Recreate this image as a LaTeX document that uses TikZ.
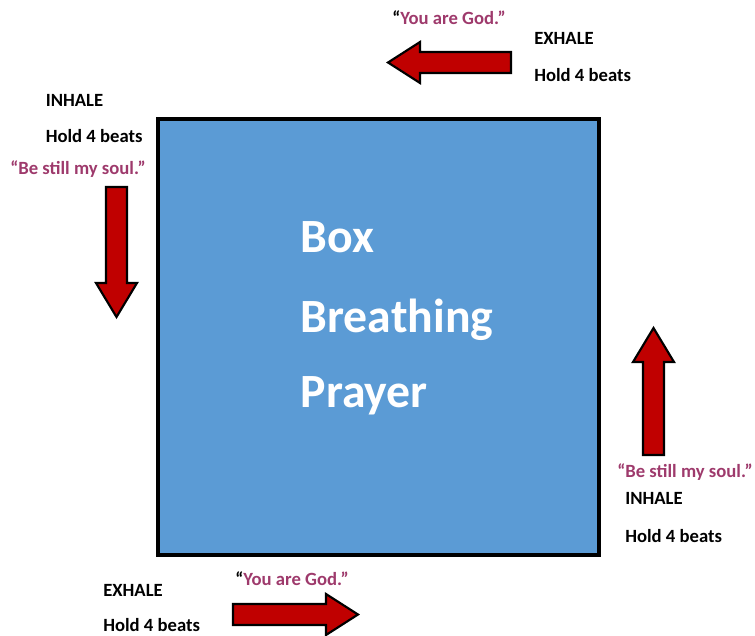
\documentclass[tikz,border=0pt]{standalone}
\usepackage{fontspec}
\setmainfont{Carlito}
\definecolor{boxblue}{HTML}{5B9BD5}
\definecolor{arrowred}{HTML}{C00000}
\definecolor{prayer}{HTML}{9E3A6C}
\begin{document}
\begin{tikzpicture}[x=0.75pt,y=-0.75pt,
  lbl/.style={anchor=base west,inner sep=0pt,font=\fontsize{14}{17}\selectfont\bfseries},
  quote/.style={lbl,text=prayer},
  title/.style={anchor=base west,inner sep=0pt,text=white,font=\fontsize{35.8}{43}\selectfont\bfseries},
  blockarrow/.style={fill=arrowred,draw=black,line width=1.6pt,line join=miter}]
\useasboundingbox (0,0) rectangle (755,635);
% central box
\draw[fill=boxblue,draw=black,line width=3pt] (157.5,118.5) rectangle (599,554.5);
\node[title] (t1) at (300.5,252) {Box};
\node[title] (t2) at (300.5,332) {Breathing};
\node[title] (t3) at (300.5,407) {Prayer};
% top arrow (left)
\draw[blockarrow] (388,62.5) -- (420,42) -- (420,52) -- (511,52) -- (511,73) -- (420,73) -- (420,83) -- cycle;
% left arrow (down)
\draw[blockarrow] (116.5,317) -- (96,283) -- (106,283) -- (106,187) -- (127,187) -- (127,283) -- (137,283) -- cycle;
% right arrow (up)
\draw[blockarrow] (653.5,328) -- (633,362) -- (643,362) -- (643,455) -- (664,455) -- (664,362) -- (674,362) -- cycle;
% bottom arrow (right)
\draw[blockarrow] (358,614.5) -- (326,594) -- (326,604) -- (233,604) -- (233,625) -- (326,625) -- (326,635) -- cycle;
% top labels
\node[quote] (q1) at (392,25) {\textcolor{black}{“}You are God.”};
\node[lbl] (e1) at (534,45) {EXHALE};
\node[lbl] (h1) at (534,81) {Hold 4 beats};
% left labels
\node[lbl] (i1) at (45.5,106) {INHALE};
\node[lbl] (h2) at (45.5,142) {Hold 4 beats};
\node[quote] (q2) at (10,174) {“Be still my soul.”};
% right labels
\node[quote] (q3) at (617,477.5) {“Be still my soul.”};
\node[lbl] (i2) at (625,504) {INHALE};
\node[lbl] (h3) at (625,542) {Hold 4 beats};
% bottom labels
\node[quote] (q4) at (235,585) {\textcolor{black}{“}You are God.”};
\node[lbl] (e2) at (103,596.5) {EXHALE};
\node[lbl] (h4) at (103,631) {Hold 4 beats};
\end{tikzpicture}
\end{document}
